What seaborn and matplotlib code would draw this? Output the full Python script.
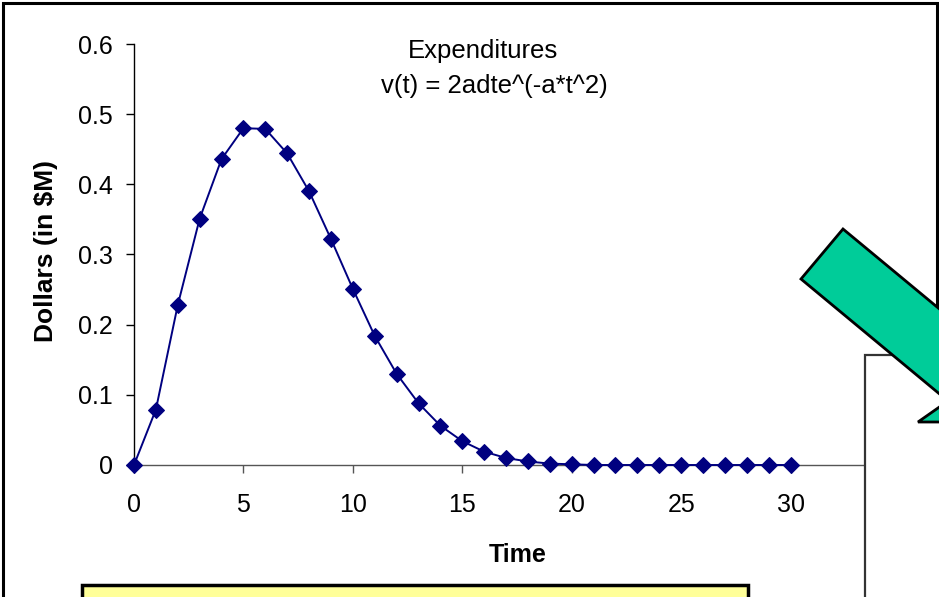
import numpy as np
import pandas as pd
import seaborn as sns
import matplotlib
matplotlib.use("Agg")
import matplotlib.pyplot as plt
from matplotlib.patches import Polygon, Rectangle

# ---- data ----
time = list(range(0, 31))
dollars = [0.000, 0.079, 0.228, 0.351, 0.436, 0.480, 0.479, 0.444, 0.390, 0.322,
           0.251, 0.184, 0.130, 0.088, 0.056, 0.034, 0.019, 0.010, 0.005, 0.002,
           0.001, 0.000, 0.000, 0.000, 0.000, 0.000, 0.000, 0.000, 0.000, 0.000,
           0.000]
x_ticks = [0, 5, 10, 15, 20, 25, 30]
y_ticks = [0, 0.1, 0.2, 0.3, 0.4, 0.5, 0.6]
y_tick_labels = ["0", "0.1", "0.2", "0.3", "0.4", "0.5", "0.6"]
title_line1 = "Expenditures"
title_line2 = "v(t) = 2adte^(-a*t^2)"

df = pd.DataFrame({"Time": time, "Dollars": dollars})

sns.set_theme(style="white")
plt.rcParams["font.family"] = ["Liberation Sans", "DejaVu Sans"]

W, H = 939, 597
fig = plt.figure(figsize=(W / 100, H / 100), dpi=100)
fig.patch.set_facecolor("white")

def fx(px):
    return px / W

def fy(py):
    return 1 - py / H

ax = fig.add_axes([fx(134), fy(465), fx(900) - fx(134), fy(44) - fy(465)])
ax.set_facecolor("none")

sns.lineplot(data=df, x="Time", y="Dollars", ax=ax, color="#000080",
             linewidth=1.4, marker="D", markersize=8.5,
             markeredgecolor="#000080", markerfacecolor="#000080",
             clip_on=False, zorder=5)

ax.set_xlim(0, 35)
ax.set_ylim(0, 0.6)
ax.set_xticks(x_ticks)
ax.set_xticklabels([str(v) for v in x_ticks])
ax.set_yticks(y_ticks)
ax.set_yticklabels(y_tick_labels)
ax.tick_params(axis="both", which="major", direction="out", length=6, width=1,
               color="black", labelsize=18, labelcolor="black",
               bottom=True, left=True)
ax.tick_params(axis="x", pad=14, color="#555555")
ax.tick_params(axis="y", pad=9)
for s in ["top", "right"]:
    ax.spines[s].set_visible(False)
ax.spines["left"].set_color("black")
ax.spines["left"].set_linewidth(1.0)
ax.spines["bottom"].set_color("#555555")
ax.spines["bottom"].set_linewidth(1.0)
ax.set_xlabel("")
ax.set_ylabel("")

# axis titles
fig.text(fx(518), fy(555), "Time", fontsize=18, fontweight="bold",
         ha="center", va="center", color="black")
fig.text(fx(46), fy(251.5), "Dollars (in $M)", fontsize=19, fontweight="bold",
         rotation=90, ha="center", va="center", color="black")

# chart title (two lines)
fig.text(fx(482.5), fy(58), title_line1, fontsize=18.5, ha="center",
         va="baseline", color="black")
fig.text(fx(494), fy(93), title_line2, fontsize=18.5, ha="center",
         va="baseline", color="black")

# ---- slide decorations around the chart ----
# outer frame
fig.add_artist(Rectangle((fx(3), fy(597 + 5)), fx(934), fy(3) - fy(602),
                         transform=fig.transFigure, fill=False,
                         edgecolor="black", linewidth=2.2, zorder=1))
# yellow box at the bottom
fig.add_artist(Rectangle((fx(82), fy(610)), fx(748) - fx(82), fy(585) - fy(610),
                         transform=fig.transFigure, facecolor="#FFFF99",
                         edgecolor="black", linewidth=2.5, zorder=10))
# white box on the right
fig.add_artist(Rectangle((fx(865), fy(610)), fx(960) - fx(865), fy(355) - fy(610),
                         transform=fig.transFigure, facecolor="white",
                         edgecolor="#333333", linewidth=1.6, zorder=10))
# green arrow
arrow_pts = [(843, 229), (801, 279), (948, 401), (918, 422), (980, 422),
             (980, 330), (960, 326)]
fig.add_artist(Polygon([(fx(x), fy(y)) for x, y in arrow_pts],
                       closed=True, transform=fig.transFigure,
                       facecolor="#00CC99", edgecolor="black",
                       linewidth=2.0, zorder=11))

fig.savefig("out.png", dpi=100, facecolor="white")
